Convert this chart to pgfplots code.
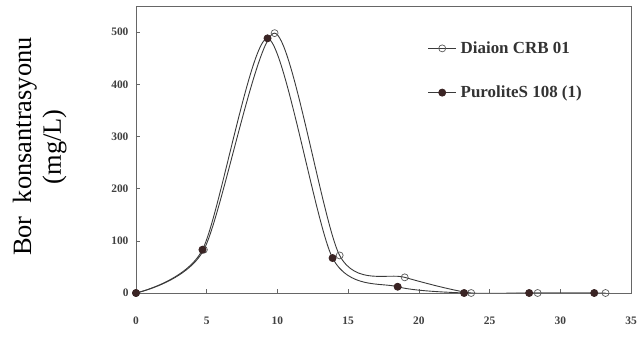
\documentclass[border=0pt]{standalone}
\usepackage{pgfplots}
\pgfplotsset{compat=1.18}
\usepackage{fontspec}
\setmainfont{Liberation Serif}
\definecolor{lc}{HTML}{3A3A3A}
\definecolor{fc}{HTML}{3A2424}
\begin{document}
\begin{tikzpicture}[x=1bp,y=1bp]
\begin{axis}[
  scale only axis,
  width=495bp, height=287bp,
  xmin=0, xmax=35, ymin=0, ymax=550,
  xtick={0,5,...,35}, ytick={0,100,...,500},
  tick pos=left, tick align=inside,
  major tick length=4bp,
  axis line style={draw=black!60, line width=0.8pt},
  tick style={black!60, line width=0.6pt},
  /pgf/number format/assume math mode=true,
  tick label style={font=\bfseries\fontsize{11.5}{13}\selectfont, text=black!75},
  xticklabel style={yshift=-20bp},
  yticklabel style={xshift=-4bp},
  ylabel={\fontsize{26.5}{30}\selectfont\begin{tabular}{c}Bor\ \ konsantrasyonu\\(mg/L)\end{tabular}},
  ylabel style={at={(-0.194,0.51)}, anchor=center},
  legend style={at={(rel axis cs:0.583,0.89)}, anchor=north west, draw=none, fill=none,
    font=\bfseries\fontsize{17}{18}\selectfont, text=black!80, row sep=27bp,
    /tikz/every odd column/.append style={column sep=2bp}},
  legend cell align=left,
  legend image code/.code={\draw[#1, mark repeat=2, mark phase=2] plot coordinates {(0bp,0bp) (14bp,0bp) (28bp,0bp)};},
]
\addplot[lc, line width=0.9pt, smooth, tension=0.45, mark=o, mark size=3.5bp, mark options={fill=white, draw=black!65, line width=0.7pt}]
  coordinates {(0,0) (4.8,83) (9.8,498) (14.4,72) (19.0,30) (23.7,0) (28.4,0) (33.2,0)};
\addlegendentry{Diaion CRB 01}
\addplot[lc, line width=0.9pt, smooth, tension=0.45, mark=*, mark size=3.5bp, mark options={fill=fc, draw=fc}]
  coordinates {(0,0) (4.7,83) (9.3,488) (13.9,67) (18.5,12) (23.2,0) (27.8,0) (32.4,0)};
\addlegendentry{PuroliteS 108 (1)}
\coordinate (O) at (rel axis cs:0,0);
\end{axis}
\pgfresetboundingbox
\path (O) ++(-136bp,-45bp) rectangle ++(641bp,338bp);
\end{tikzpicture}
\end{document}
